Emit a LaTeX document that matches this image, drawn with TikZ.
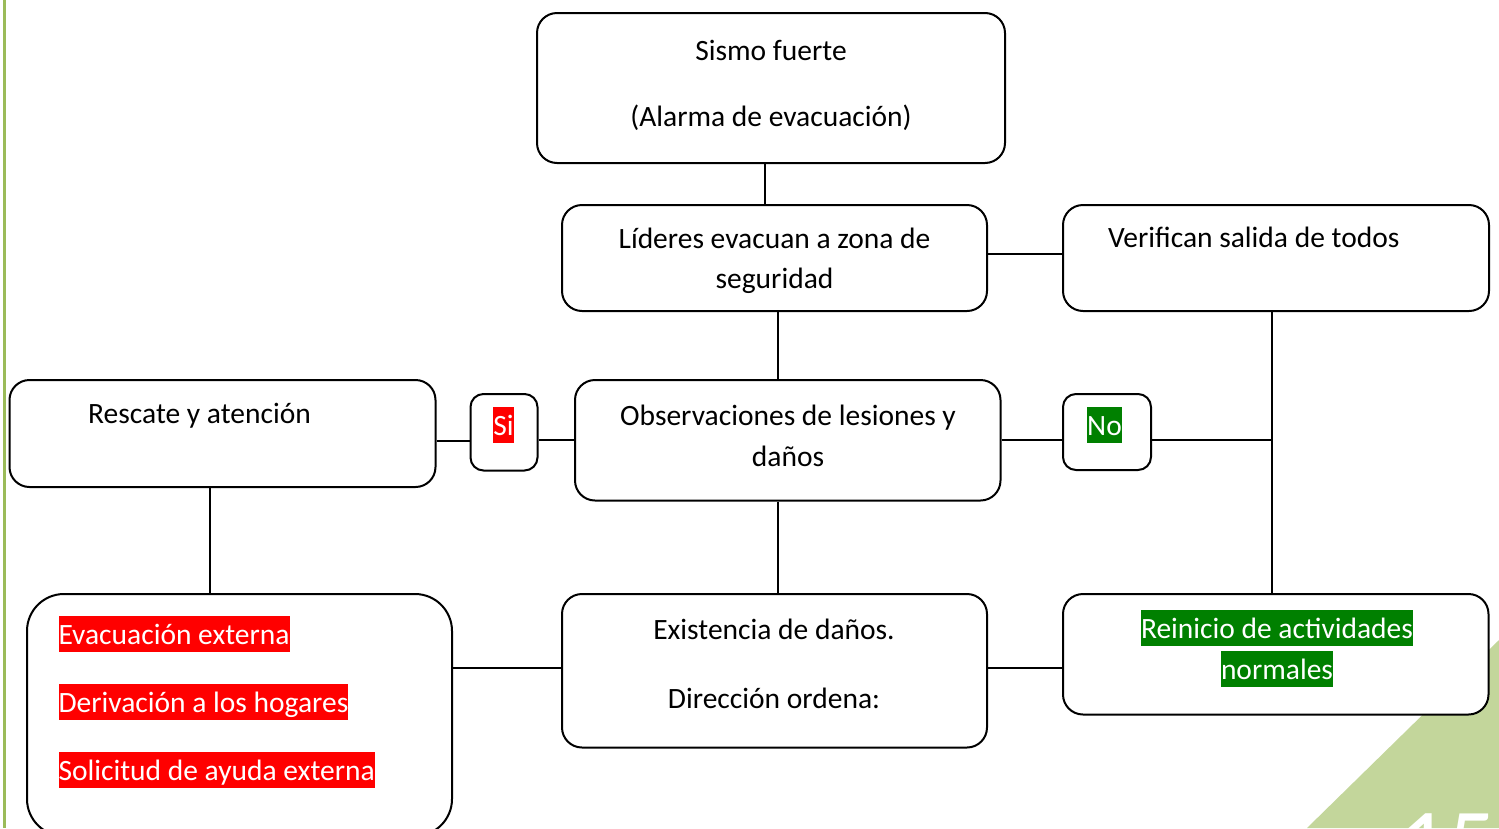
\documentclass[tikz,border=0pt]{standalone}
\usepackage{fontspec}
\setmainfont{Carlito}
\definecolor{hlred}{HTML}{FF0000}
\definecolor{hlgreen}{HTML}{008000}
\definecolor{trigreen}{HTML}{C3D69B}
\definecolor{barline}{HTML}{9BBB59}
\newcommand\hlt[2]{{\setlength{\fboxsep}{0pt}\colorbox{#1}{\rule[-0.269em]{0pt}{1.221em}\textcolor{white}{#2}}}}
\begin{document}
\begin{tikzpicture}[x=1pt,y=-1pt,
  box/.style={draw, line width=2pt, rounded corners=20pt, fill=white, inner sep=0pt},
  smallbox/.style={box, rounded corners=13pt},
  conn/.style={line width=2pt},
  txt/.style={inner sep=0pt, font=\fontsize{29.5}{35}\selectfont, anchor=base}]
\useasboundingbox (0,0) rectangle (1499,828);
\clip (0,0) rectangle (1499,828);
% background decorations
\fill[trigreen] (1307,828) -- (1499,640) -- (1499,828) -- cycle;
\node[inner sep=0pt, anchor=base west, font=\fontsize{96}{110}\selectfont, text=white] (pagenum) at (1399,875) {15};
\draw[barline, line width=2.7pt] (4.6,0) -- (4.6,828);
% boxes
\node[box, minimum width=468pt, minimum height=150pt] (sismo) at (771,88) {};
\node[box, minimum width=425pt, minimum height=106pt] (lideres) at (774.5,258) {};
\node[box, minimum width=426pt, minimum height=106pt] (verif) at (1276,258) {};
\node[box, minimum width=426pt, minimum height=107pt] (rescate) at (222.5,433.5) {};
\node[smallbox, minimum width=67pt, minimum height=76.5pt] (si) at (504,432.25) {};
\node[box, minimum width=425.5pt, minimum height=120.5pt] (obs) at (787.75,440.25) {};
\node[smallbox, minimum width=88pt, minimum height=76pt] (no) at (1107,432) {};
\node[box, rounded corners=37pt, minimum width=425pt, minimum height=242pt] (evac) at (239.5,715) {};
\node[box, minimum width=425pt, minimum height=153.5pt] (exist) at (774.5,670.75) {};
\node[box, minimum width=425.5pt, minimum height=120.5pt] (reinicio) at (1275.75,654.25) {};
\coordinate (jn) at (1272,440);
% connectors
\draw[conn] ([xshift=-6pt]sismo.south) -- ([xshift=-6pt]sismo.south |- lideres.north);
\draw[conn] ([yshift=4pt]lideres.east) -- ([yshift=4pt]lideres.east -| verif.west);
\draw[conn] ([xshift=3.5pt]lideres.south) -- ([xshift=3.5pt]lideres.south |- obs.north);
\draw[conn] ([yshift=-7pt]rescate.east) -- ([yshift=-7pt]rescate.east -| si.west);
\draw[conn] ([yshift=-8pt]si.east) -- ([yshift=-8pt]si.east -| obs.west);
\draw[conn] (obs.east) -- (obs.east -| no.west);
\draw[conn] ([yshift=-8pt]no.east) -- (jn);
\draw[conn] ([xshift=-4pt]verif.south) -- ([xshift=-4pt]verif.south |- reinicio.north);
\draw[conn] ([xshift=-12.5pt]rescate.south) -- ([xshift=-12.5pt]rescate.south |- evac.north);
\draw[conn] ([xshift=-9.75pt]obs.south) -- ([xshift=-9.75pt]obs.south |- exist.north);
\draw[conn] ([yshift=2.75pt]exist.west) -- ([yshift=2.75pt]exist.west -| evac.east);
\draw[conn] ([yshift=2.75pt]exist.east) -- ([yshift=2.75pt]exist.east -| reinicio.west);
% texts
\node[txt] (t1) at (771,60) {Sismo fuerte};
\node[txt] (t2) at (771,126) {(Alarma de evacuación)};
\node[txt] (t3) at (774.5,248) {Líderes evacuan a zona de};
\node[txt] (t4) at (774.5,288) {seguridad};
\node[txt, anchor=base west] (t5) at (1108,247) {Verifican salida de todos};
\node[txt, anchor=base west] (t6) at (88,423) {Rescate y atención};
\node[txt] (t7) at (503.5,435) {\hlt{hlred}{Si}};
\node[txt] (t8) at (788,425) {Observaciones de lesiones y};
\node[txt] (t9) at (788,466) {daños};
\node[txt] (t10) at (1104.5,435) {\hlt{hlgreen}{No}};
\node[txt] (t11) at (774,639) {Existencia de daños.};
\node[txt] (t12) at (774,708) {Dirección ordena:};
\node[txt] (t13) at (1277,638) {\hlt{hlgreen}{Reinicio de actividades}};
\node[txt] (t14) at (1277,679) {\hlt{hlgreen}{normales}};
\node[txt, anchor=base west] (t15) at (58.3,644) {\hlt{hlred}{Evacuación externa}};
\node[txt, anchor=base west] (t16) at (58.3,712) {\hlt{hlred}{Derivación a los hogares}};
\node[txt, anchor=base west] (t17) at (58.3,780) {\hlt{hlred}{Solicitud de ayuda externa}};
\end{tikzpicture}
\end{document}
